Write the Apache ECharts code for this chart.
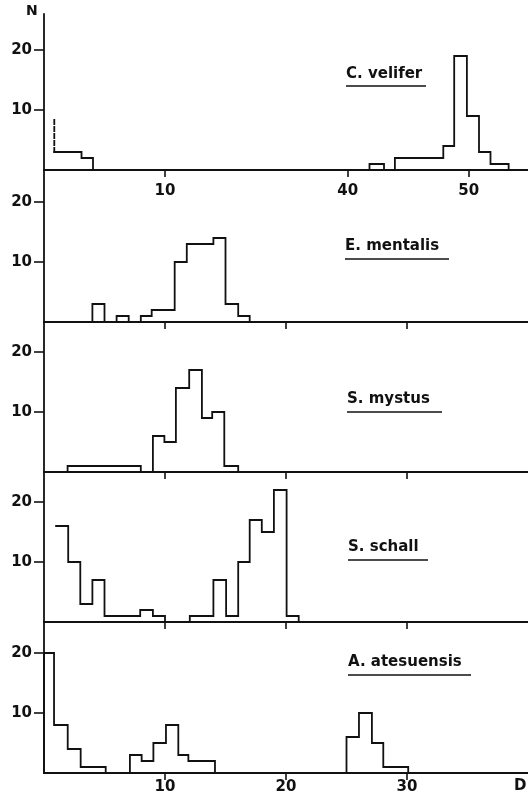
<!DOCTYPE html>
<html>
<head>
<meta charset="utf-8">
<script src="https://cdn.jsdelivr.net/npm/echarts@6/dist/echarts.min.js"></script>
<style>
  html, body { margin: 0; padding: 0; background: #fff; }
  #chart { width: 528px; height: 802px; }
</style>
</head>
<body>
<div id="chart"></div>
<script>
// Length-frequency histograms (D) of five species, counts N per class.
// Each histogram is given as class edges and the count inside each class.

const species = ['C. velifer', 'E. mentalis', 'S. mystus', 'S. schall', 'A. atesuensis'];

// C. velifer: small classes near the origin and a large mode after the axis break
const veliferLowEdges = [0.85, 3.1, 4.05];
const veliferLowCounts = [3, 2];
const veliferDashedSpan = [3, 8.6];          // dashed extension of the first class
const veliferHighEdges = [41.8, 43.0, 43.9, 47.9, 48.8, 49.85, 50.85, 51.8, 53.3];
const veliferHighCounts = [1, 0, 2, 4, 19, 9, 3, 1];

const mentalisEdges = [4, 5, 6, 7, 8, 8.9, 10.8, 11.8, 14, 15, 16.05, 17];
const mentalisCounts = [3, 0, 1, 0, 1, 2, 10, 13, 14, 3, 1];

const mystusEdges = [1.95, 8, 9, 9.95, 10.9, 12, 13.05, 13.9, 14.9, 16.05];
const mystusCounts = [1, 0, 6, 5, 14, 17, 9, 10, 1];

const schallEdges = [1, 2, 3, 4, 5, 7.95, 9, 10, 12.05, 14, 15.05, 16.05, 17, 18, 19, 20.05, 21.05];
const schallCounts = [16, 10, 3, 7, 1, 2, 1, 0, 1, 7, 1, 10, 17, 15, 22, 1];

const atesuensisEdges = [0, 0.83, 1.96, 3.03, 5.1, 7.1, 8.07, 9.04, 10.08, 11.1, 11.93, 14.13, 25, 26.03, 27.1, 28.04, 30.1];
const atesuensisCounts = [20, 8, 4, 1, 0, 3, 2, 5, 8, 3, 2, 0, 6, 10, 5, 1];

// Axis ticks
const yTickValues = [10, 20];
const topTickValues = [10, 40, 50];     // top panel, broken axis
const bottomTickValues = [10, 20, 30];
const xMax = 40;
const BREAK_SHIFT = 14.9;               // D beyond the break is drawn this much further left

// ---------------------------------------------------------------------------
const INK = '#111';
const FONT = 'DejaVu Sans';
const PX_PER_N = 6;

const panels = [
  { top: 14,  height: 156, label: { x: 346, y: 76,  uy: 86,  ux: [346, 426] } },
  { top: 170, height: 152, label: { x: 345, y: 248, uy: 259, ux: [345, 449] } },
  { top: 322, height: 150, label: { x: 347, y: 401, uy: 412, ux: [347, 442] } },
  { top: 472, height: 150, label: { x: 348, y: 549, uy: 560, ux: [348, 428] } },
  { top: 622, height: 151, label: { x: 348, y: 664, uy: 675, ux: [348, 471] } }
];

// outline of a histogram as a polyline of class corners
function outline(edges, counts, openLeft, shift) {
  const s = shift || 0;
  const pts = [];
  if (!openLeft) pts.push([edges[0] - s, 0]);
  for (let i = 0; i < counts.length; i++) {
    pts.push([edges[i] - s, counts[i]]);
    pts.push([edges[i + 1] - s, counts[i]]);
  }
  pts.push([edges[edges.length - 1] - s, 0]);
  return pts;
}

const grids = panels.map(p => ({ left: 44, width: 484, top: p.top, height: p.height }));

const xAxes = panels.map((p, i) => {
  let ticks = bottomTickValues, showLabels = false, margin = 7, formatter = null;
  if (i === 0) {
    ticks = topTickValues.map(v => (v > 20 ? v - BREAK_SHIFT : v));
    showLabels = true; margin = 14;
    formatter = v => String(Math.round(v > 20 ? v + BREAK_SHIFT : v));
  } else if (i === panels.length - 1) {
    showLabels = true;
  }
  return {
    type: 'value', gridIndex: i, min: 0, max: xMax,
    axisLine: { show: true, onZero: false, lineStyle: { color: INK, width: 1.8 } },
    axisTick: { show: true, customValues: ticks, length: 7, lineStyle: { color: INK, width: 1.6 } },
    axisLabel: {
      show: showLabels, customValues: ticks, margin: margin,
      fontFamily: FONT, fontSize: 15, fontWeight: 'bold', color: INK,
      formatter: formatter || (v => String(v))
    },
    splitLine: { show: false }
  };
});

const yAxes = panels.map((p, i) => ({
  type: 'value', gridIndex: i, min: 0, max: p.height / PX_PER_N,
  axisLine: { show: true, lineStyle: { color: INK, width: 1.8 } },
  axisTick: { show: true, customValues: yTickValues, length: 10, lineStyle: { color: INK, width: 1.6 } },
  axisLabel: {
    show: true, customValues: yTickValues, margin: 12,
    fontFamily: FONT, fontSize: 15, fontWeight: 'bold', color: INK
  },
  splitLine: { show: false }
}));

function stepSeries(idx, data, dashed) {
  return {
    type: 'line', xAxisIndex: idx, yAxisIndex: idx, data: data,
    showSymbol: false, symbol: 'none', silent: true, clip: false,
    lineStyle: { color: INK, width: 1.8, type: dashed ? [4, 3] : 'solid', cap: 'square', join: 'miter' }
  };
}

const series = [
  stepSeries(0, outline(veliferLowEdges, veliferLowCounts, true)),
  stepSeries(0, veliferDashedSpan.map(n => [veliferLowEdges[0], n]), true),
  stepSeries(0, outline(veliferHighEdges, veliferHighCounts, false, BREAK_SHIFT)),
  stepSeries(1, outline(mentalisEdges, mentalisCounts, false)),
  stepSeries(2, outline(mystusEdges, mystusCounts, false)),
  stepSeries(3, outline(schallEdges, schallCounts, true)),
  stepSeries(4, outline(atesuensisEdges, atesuensisCounts, false))
];

const graphic = [];
panels.forEach((p, i) => {
  graphic.push({
    type: 'text', left: p.label.x, top: p.label.y - 9,
    style: { text: species[i], font: 'bold 15px "' + FONT + '"', fill: INK }
  });
  graphic.push({
    type: 'line',
    shape: { x1: p.label.ux[0], y1: p.label.uy, x2: p.label.ux[1], y2: p.label.uy },
    style: { stroke: INK, lineWidth: 1.6 }
  });
});
graphic.push({ type: 'text', left: 26, top: 4, style: { text: 'N', font: 'bold 14px "' + FONT + '"', fill: INK } });
graphic.push({ type: 'text', left: 514, top: 779, style: { text: 'D', font: 'bold 15px "' + FONT + '"', fill: INK } });

const chart = echarts.init(document.getElementById('chart'), null, { renderer: 'canvas' });
chart.setOption({
  animation: false,
  backgroundColor: '#fff',
  grid: grids,
  xAxis: xAxes,
  yAxis: yAxes,
  series: series,
  graphic: graphic
});
</script>
</body>
</html>
